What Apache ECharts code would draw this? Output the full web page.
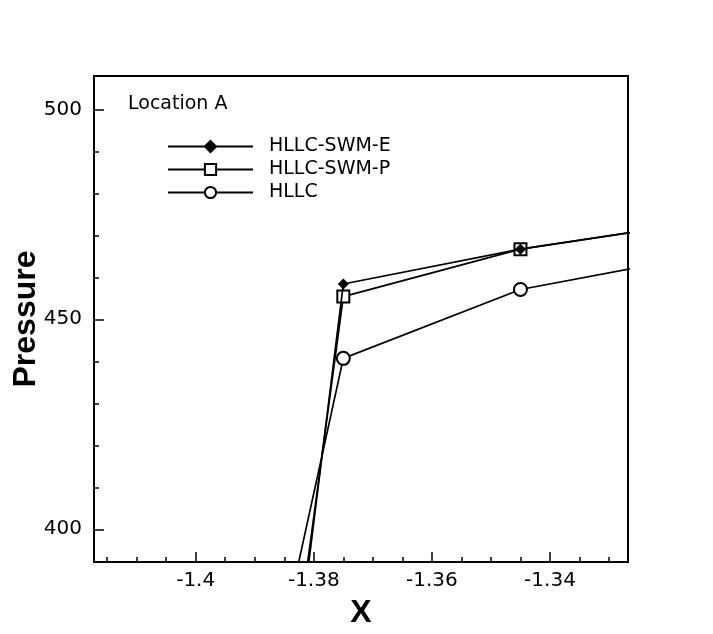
<!DOCTYPE html>
<html>
<head>
<meta charset="utf-8">
<title>Pressure - Location A</title>
<script src="https://cdn.jsdelivr.net/npm/echarts@6/dist/echarts.min.js"></script>
<style>
  html, body { margin: 0; padding: 0; background: #fff; }
  #chart { width: 713px; height: 634px; }
</style>
</head>
<body>
<div id="chart"></div>
<script>
// data
var xValues = [-1.405, -1.375, -1.345, -1.315];
var swmE = [118, 458.4, 466.7, 473.1];
var swmP = [141, 455.4, 466.7, 473.1];
var hllc = [248, 440.7, 457.1, 465.0];

var xMajor = [-1.4, -1.38, -1.36, -1.34];
var xMinor = [-1.415, -1.41, -1.405, -1.395, -1.39, -1.385, -1.375, -1.37, -1.365,
  -1.355, -1.35, -1.345, -1.335, -1.33];
var yMajor = [400, 450, 500];
var yMinor = [410, 420, 430, 440, 460, 470, 480, 490];

function pairs(ys) {
  return xValues.map(function (x, i) { return [x, ys[i]]; });
}

function lineSeries(name, values, symbol, size, z) {
  return {
    name: name,
    type: 'line',
    data: pairs(values),
    symbol: symbol,
    symbolSize: size,
    clip: true,
    z: z,
    lineStyle: { color: '#000', width: 1.7 },
    itemStyle: { color: '#000', borderColor: '#000', borderWidth: 1.5 },
    emphasis: { disabled: true }
  }
}

var chart = echarts.init(document.getElementById('chart'));
var tickFont = 'DejaVu Sans';

var option = {
  backgroundColor: '#fff',
  animation: false,
  title: {
    text: 'Location A',
    left: 128,
    top: 95,
    padding: 0,
    textStyle: { fontFamily: tickFont, fontSize: 19, fontWeight: 'normal', color: '#000' }
  },
  legend: {
    orient: 'vertical',
    left: 167,
    top: 137,
    padding: 0,
    itemWidth: 85,
    itemHeight: 14,
    itemGap: 4,
    data: ['HLLC-SWM-E', 'HLLC-SWM-P', 'HLLC'],
    textStyle: { fontFamily: tickFont, fontSize: 19, color: '#000', padding: [0, 0, 0, 11] }
  },
  grid: {
    left: 94, top: 76, width: 534, height: 486,
    outerBoundsMode: 'none',
    containLabel: false,
    show: true, borderColor: '#000', borderWidth: 2, backgroundColor: 'transparent'
  },
  xAxis: [{
    type: 'value',
    min: -1.41722,
    max: -1.32679,
    position: 'bottom',
    name: 'X',
    nameLocation: 'middle',
    nameGap: 35,
    nameMoveOverlap: false,
    nameTextStyle: { fontFamily: 'Liberation Sans', fontWeight: 'bold', fontSize: 32, color: '#000' },
    axisLine: { show: false },
    splitLine: { show: false },
    axisTick: { inside: true, length: 10, lineStyle: { color: '#000', width: 1.5 }, customValues: xMajor },
    axisLabel: { margin: 9, fontFamily: tickFont, fontSize: 20, color: '#000', customValues: xMajor }
  }, {
    type: 'value',
    min: -1.41722,
    max: -1.32679,
    position: 'bottom',
    axisLine: { show: false },
    splitLine: { show: false },
    axisLabel: { show: false },
    axisTick: { inside: true, length: 5, lineStyle: { color: '#000', width: 1.5 }, customValues: xMinor }
  }],
  yAxis: [{
    type: 'value',
    min: 392.21,
    max: 507.93,
    position: 'left',
    name: 'Pressure',
    nameLocation: 'middle',
    nameGap: 52,
    nameMoveOverlap: false,
    nameTextStyle: { fontFamily: 'Liberation Sans', fontWeight: 'bold', fontSize: 32, color: '#000' },
    axisLine: { show: false },
    splitLine: { show: false },
    axisTick: { inside: true, length: 10, lineStyle: { color: '#000', width: 1.5 }, customValues: yMajor },
    axisLabel: { margin: 12, fontFamily: tickFont, fontSize: 20, color: '#000', customValues: yMajor }
  }, {
    type: 'value',
    min: 392.21,
    max: 507.93,
    position: 'left',
    axisLine: { show: false },
    splitLine: { show: false },
    axisLabel: { show: false },
    axisTick: { inside: true, length: 5, lineStyle: { color: '#000', width: 1.5 }, customValues: yMinor }
  }],
  series: [
    lineSeries('HLLC-SWM-E', swmE, 'diamond', 9, 4),
    lineSeries('HLLC-SWM-P', swmP, 'emptyRect', 12, 3),
    lineSeries('HLLC', hllc, 'emptyCircle', 13, 2)
  ]
};

chart.setOption(option);
</script>
</body>
</html>
